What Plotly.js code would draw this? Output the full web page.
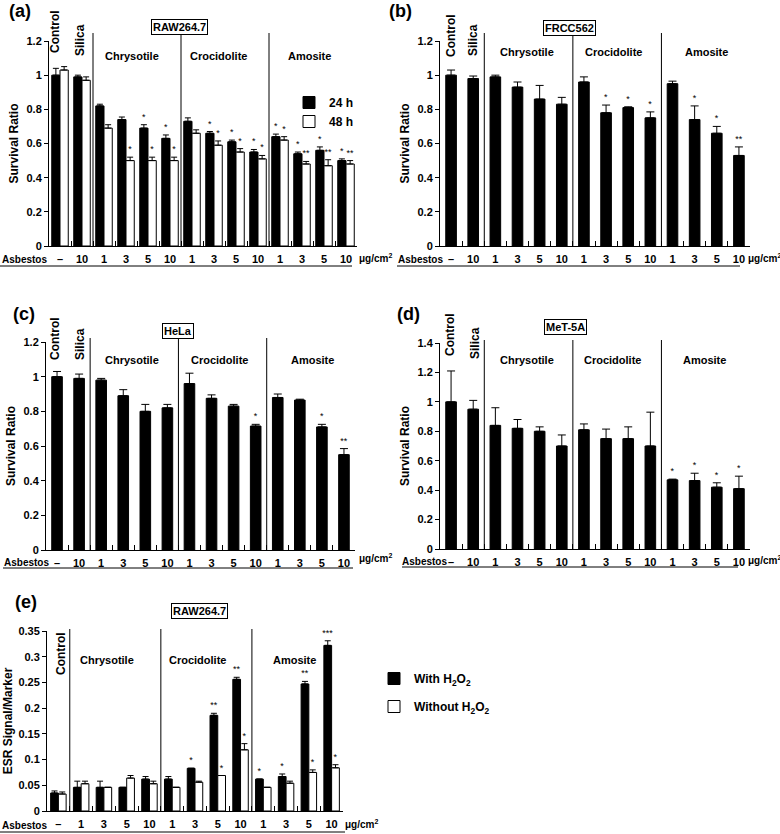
<!DOCTYPE html>
<html><head><meta charset="utf-8">
<script src="https://cdn.plot.ly/plotly-3.0.1.min.js"></script>
<style>html,body{margin:0;padding:0;background:#fff}#chart{width:780px;height:834px}</style>
</head><body><div id="chart"></div>
<script>
// ---------- DATA ----------
const cats14 = ["Control","Silica 10","Chrysotile 1","Chrysotile 3","Chrysotile 5","Chrysotile 10","Crocidolite 1","Crocidolite 3","Crocidolite 5","Crocidolite 10","Amosite 1","Amosite 3","Amosite 5","Amosite 10"];
const dose14 = ["–","10","1","3","5","10","1","3","5","10","1","3","5","10"];
const cats13 = ["Control","Chrysotile 1","Chrysotile 3","Chrysotile 5","Chrysotile 10","Crocidolite 1","Crocidolite 3","Crocidolite 5","Crocidolite 10","Amosite 1","Amosite 3","Amosite 5","Amosite 10"];
const dose13 = ["–","1","3","5","10","1","3","5","10","1","3","5","10"];

// (a) RAW264.7
const aVal24 = [1.00,0.99,0.82,0.74,0.69,0.63,0.73,0.66,0.61,0.55,0.64,0.54,0.56,0.50];
const aErr24 = [0.04,0.01,0.01,0.015,0.02,0.02,0.02,0.01,0.01,0.015,0.015,0.01,0.02,0.01];
const aVal48 = [1.03,0.97,0.69,0.50,0.50,0.50,0.66,0.59,0.55,0.51,0.62,0.48,0.47,0.48];
const aErr48 = [0.02,0.02,0.02,0.02,0.02,0.02,0.02,0.025,0.02,0.02,0.02,0.015,0.035,0.02];
const aStar24 = ["","","","","*","*","","*","*","*","*","*","*","*"];
const aStar48 = ["","","","*","*","*","","*","*","*","*","**","**","**"];
// (b) FRCC562
const bVal = [1.00,0.98,0.99,0.93,0.86,0.83,0.96,0.78,0.81,0.75,0.95,0.74,0.66,0.53];
const bErr = [0.03,0.015,0.01,0.03,0.08,0.04,0.03,0.045,0.005,0.035,0.015,0.08,0.04,0.05];
const bStar = ["","","","","","","","*","*","*","","*","*","**"];
// (c) HeLa
const cVal = [1.00,0.99,0.98,0.89,0.80,0.82,0.96,0.875,0.83,0.715,0.88,0.865,0.71,0.55];
const cErr = [0.03,0.025,0.01,0.035,0.04,0.02,0.06,0.02,0.01,0.01,0.02,0.005,0.015,0.035];
const cStar = ["","","","","","","","","","*","","","*","**"];
// (d) MeT-5A
const dVal = [1.00,0.95,0.84,0.82,0.80,0.70,0.81,0.75,0.75,0.70,0.47,0.465,0.42,0.41];
const dErr = [0.21,0.06,0.12,0.06,0.03,0.075,0.04,0.065,0.08,0.23,0.005,0.05,0.03,0.085];
const dStar = ["","","","","","","","","","","*","*","*","*"];
// (e) RAW264.7 ESR
const eWith = [0.035,0.046,0.046,0.046,0.062,0.062,0.083,0.186,0.256,0.062,0.067,0.247,0.322];
const eWithErr = [0.004,0.012,0.012,0,0.005,0.005,0,0.004,0.004,0,0.005,0.005,0.009];
const eWithout = [0.033,0.053,0.046,0.064,0.053,0.046,0.056,0.069,0.119,0.046,0.054,0.075,0.084];
const eWithoutErr = [0.004,0.005,0,0.005,0.005,0,0.002,0,0.012,0,0.004,0.005,0.006];
const eStarWith = ["","","","","","","*","**","**","*","*","**","***"];
const eStarWithout = ["","","","","","","","*","*","","","*","*"];

// ---------- HELPERS ----------
const W = 780, H = 834;
const px = x => x / W, py = y => 1 - y / H;
const FAM = "Liberation Sans, Arial, sans-serif";
const BF = (s) => ({family: FAM, size: s, color: '#000', weight: 'bold'});

function barTrace(xa, ya, cats, vals, errs, name, fill, off, wid, capw, legend, showleg) {
  return {type:'bar', x:cats, y:vals, name:name, xaxis:xa, yaxis:ya,
    offset:off, width:wid, legend:legend, showlegend:showleg, legendgroup:name,
    marker:{color:fill, line:{color:'#000', width:1}},
    error_y:{type:'data', symmetric:false, array:errs, arrayminus:errs.map(()=>0), color:'#000', thickness:1, width:capw},
    hoverinfo:'x+y'};
}
function starTrace(xa, ya, cats, vals, errs, stars, off, wid) {
  const idx = stars.map((s,i)=> s ? i : -1).filter(i => i >= 0);
  return {type:'bar', x:idx.map(i=>cats[i]), y:idx.map(i=>vals[i]+errs[i]), text:idx.map(i=>stars[i]),
    textposition:'outside', textfont:{family:FAM, size:9, color:'#000'}, constraintext:'none', cliponaxis:false,
    xaxis:xa, yaxis:ya, offset:off, width:wid, showlegend:false, hoverinfo:'skip',
    marker:{color:'rgba(0,0,0,0)', line:{width:0}}};
}
function xAx(d0, d1, anchor, cats, labels) {
  return {domain:[px(d0), px(d1)], anchor:anchor, type:'category', categoryorder:'array', categoryarray:cats,
    range:[-0.5, cats.length-0.5], tickmode:'array', tickvals:cats, ticktext:labels, tickson:'boundaries',
    ticks:'inside', ticklen:5, tickcolor:'#000', showline:true, linecolor:'#000', linewidth:1,
    showgrid:false, zeroline:false, tickfont:BF(11), ticklabelstandoff:3, fixedrange:true};
}
function yAx(top, bot, anchor, range, dtick, title, standoff) {
  return {domain:[py(bot), py(top)], anchor:anchor, range:range, dtick:dtick, ticks:'outside', ticklen:4,
    tickcolor:'#000', showline:true, linecolor:'#000', linewidth:1, showgrid:false, zeroline:false,
    tickfont:BF(11), title:{text:title, font:BF(12), standoff:standoff}, fixedrange:true};
}
function ann(text, x, y, size, extra) {
  return Object.assign({text:text, x:px(x), y:py(y), xref:'paper', yref:'paper', showarrow:false,
    xanchor:'center', yanchor:'middle', font:BF(size)}, extra || {});
}
function boxAnn(text, x, y) {
  return ann(text, x, y, 11, {bordercolor:'#000', borderwidth:1, borderpad:1, bgcolor:'#fff'});
}
function vline(xref, pos, top, bot) {
  return {type:'line', xref:xref, yref:'paper', x0:pos, x1:pos, y0:py(bot), y1:py(top), line:{color:'#000', width:1}};
}
function hline(x0, x1, y) {
  return {type:'line', xref:'paper', yref:'paper', x0:px(x0), x1:px(x1), y0:py(y), y1:py(y), line:{color:'#000', width:1}};
}

// ---------- TRACES ----------
const traces = [
  barTrace('x','y',cats14,aVal24,aErr24,'24 h','#000',-0.375,0.375,3,'legend',true),
  barTrace('x','y',cats14,aVal48,aErr48,'48 h','#fff',0,0.375,3,'legend',true),
  starTrace('x','y',cats14,aVal24,aErr24,aStar24,-0.375,0.375),
  starTrace('x','y',cats14,aVal48,aErr48,aStar48,0,0.375),

  barTrace('x2','y2',cats14,bVal,bErr,'FRCC562','#000',-0.24,0.48,4,'legend',false),
  starTrace('x2','y2',cats14,bVal,bErr,bStar,-0.24,0.48),

  barTrace('x3','y3',cats14,cVal,cErr,'HeLa','#000',-0.24,0.48,4,'legend',false),
  starTrace('x3','y3',cats14,cVal,cErr,cStar,-0.24,0.48),

  barTrace('x4','y4',cats14,dVal,dErr,'MeT-5A','#000',-0.24,0.48,4,'legend',false),
  starTrace('x4','y4',cats14,dVal,dErr,dStar,-0.24,0.48),

  barTrace('x5','y5',cats13,eWith,eWithErr,'With H<sub>2</sub>O<sub>2</sub>','#000',-0.34,0.34,3,'legend2',true),
  barTrace('x5','y5',cats13,eWithout,eWithoutErr,'Without H<sub>2</sub>O<sub>2</sub>','#fff',0,0.34,3,'legend2',true),
  starTrace('x5','y5',cats13,eWith,eWithErr,eStarWith,-0.34,0.34),
  starTrace('x5','y5',cats13,eWithout,eWithoutErr,eStarWithout,0,0.34)
];

// ---------- LAYOUT ----------
const layout = {
  width:W, height:H, margin:{l:0,r:0,t:0,b:0}, paper_bgcolor:'#fff', plot_bgcolor:'rgba(0,0,0,0)',
  barmode:'overlay', font:{family:FAM, color:'#000'},
  xaxis: xAx(49,357,'y',cats14,dose14),   yaxis: yAx(41,246,'x',[0,1.2],0.2,'Survival Ratio',5),
  xaxis2:xAx(440,750,'y2',cats14,dose14), yaxis2:yAx(41,246,'x2',[0,1.2],0.2,'Survival Ratio',5),
  xaxis3:xAx(46,355,'y3',cats14,dose14),  yaxis3:yAx(342,550,'x3',[0,1.2],0.2,'Survival Ratio',5),
  xaxis4:xAx(440,750,'y4',cats14,dose14), yaxis4:yAx(343,549,'x4',[0,1.4],0.2,'Survival Ratio',5),
  xaxis5:xAx(47,343,'y5',cats13,dose13),  yaxis5:yAx(631,811,'x5',[0,0.35],0.05,'ESR Signal/Marker',3),
  legend:{x:px(289), y:py(88), xanchor:'left', yanchor:'top', bgcolor:'rgba(0,0,0,0)', font:BF(12), tracegroupgap:0},
  legend2:{x:px(374), y:py(664), xanchor:'left', yanchor:'top', bgcolor:'rgba(0,0,0,0)', font:BF(12), tracegroupgap:9},
  shapes:[
    vline('x',1.5,33,246), vline('x',5.5,33,246), vline('x',9.5,33,246),
    vline('x2',1.5,33,246), vline('x2',5.5,33,246), vline('x2',9.5,33,246),
    vline('x3',1.5,338,550), vline('x3',5.5,338,550), vline('x3',9.5,338,550),
    vline('x4',1.5,340,549), vline('x4',5.5,340,549), vline('x4',9.5,340,549),
    vline('x5',0.5,629,811), vline('x5',4.5,629,811), vline('x5',8.5,629,811),
    hline(0,352,266), hline(397,740,266), hline(3,353,568), hline(402,738,567), hline(0,345,832)
  ],
  annotations:[
    // (a)
    ann('(a)',20,11,18), boxAnn('RAW264.7',179,27),
    ann('Control',55,32,12,{textangle:-90}), ann('Silica',80,40,12,{textangle:-90}),
    ann('Chrysotile',132,56,11), ann('Crocidolite',218,56,11), ann('Amosite',309,56,11),
    ann('Asbestos',0,259,10,{xanchor:'left'}), ann('μg/cm<sup>2</sup>',357,258,10,{xanchor:'left'}),
    // (b)
    ann('(b)',401,11,18), boxAnn('FRCC562',569,28),
    ann('Control',451,36,12,{textangle:-90}), ann('Silica',473,40,12,{textangle:-90}),
    ann('Chrysotile',527,52,11), ann('Crocidolite',613,52,11), ann('Amosite',706,52,11),
    ann('Asbestos',396,259,10,{xanchor:'left'}), ann('μg/cm<sup>2</sup>',746,258,10,{xanchor:'left'}),
    // (c)
    ann('(c)',24,314,18), boxAnn('HeLa',178,331),
    ann('Control',55,339,12,{textangle:-90}), ann('Silica',80,344,12,{textangle:-90}),
    ann('Chrysotile',132,360,11), ann('Crocidolite',219,360,11), ann('Amosite',312,360,11),
    ann('Asbestos',2,562,10,{xanchor:'left'}), ann('μg/cm<sup>2</sup>',357,558,10,{xanchor:'left'}),
    // (d)
    ann('(d)',408,314,18), boxAnn('MeT-5A',565,327),
    ann('Control',450,334,12,{textangle:-90}), ann('Silica',475,343,12,{textangle:-90}),
    ann('Chrysotile',527,360,11), ann('Crocidolite',612,360,11), ann('Amosite',704,360,11),
    ann('Asbestos',400,561,10,{xanchor:'left'}), ann('μg/cm<sup>2</sup>',746,560,10,{xanchor:'left'}),
    // (e)
    ann('(e)',26,602,18), boxAnn('RAW264.7',200,611),
    ann('Control',61,654,12,{textangle:-90}),
    ann('Chrysotile',107,660,11), ann('Crocidolite',197,660,11), ann('Amosite',294,660,11),
    ann('Asbestos',0,825,10,{xanchor:'left'}), ann('μg/cm<sup>2</sup>',343,824,10,{xanchor:'left'})
  ]
};

Plotly.newPlot('chart', traces, layout, {displayModeBar:false, staticPlot:true});
</script>
</body></html>
